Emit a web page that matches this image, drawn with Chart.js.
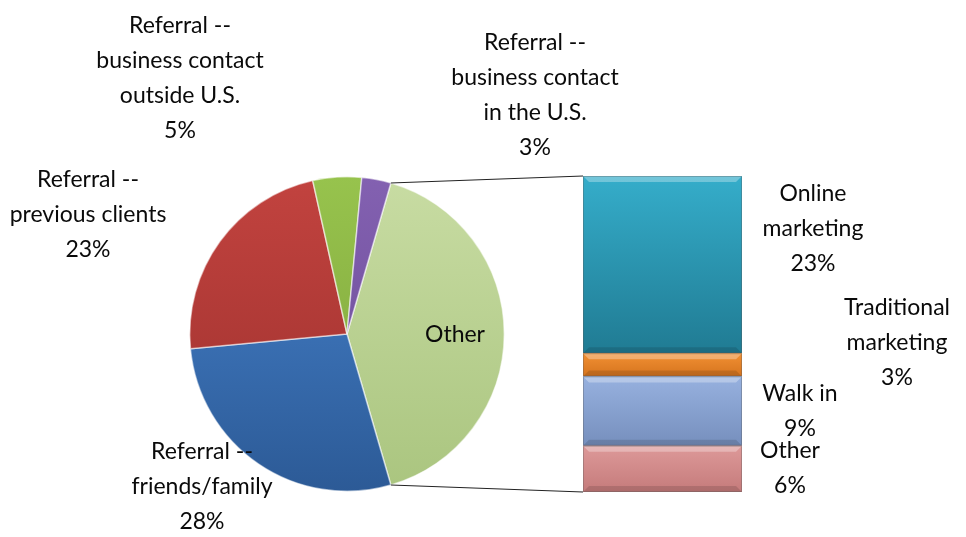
<!DOCTYPE html>
<html>
<head>
<meta charset="utf-8">
<script src="https://cdn.jsdelivr.net/npm/chart.js@4.4.0/dist/chart.umd.min.js"></script>
<style>
    html, body { margin: 0; padding: 0; background: #fff; }
    #wrap { position: relative; width: 966px; height: 537px; }
    #wrap canvas { position: absolute; left: 0; top: 0; }
</style>
</head>
<body>
<div id="wrap">
    <canvas id="pieChart" width="966" height="537"></canvas>
    <canvas id="barChart" width="966" height="537"></canvas>
</div>
<script>
// datos del grafico
const pieLabels = ['Other', 'Referral --\nfriends/family', 'Referral --\nprevious clients',
    'Referral --\nbusiness contact\noutside U.S.', 'Referral --\nbusiness contact\nin the U.S.'];
const pieValues = [41, 28, 23, 5, 3];
const barLabels = ['Other', 'Walk in', 'Traditional\nmarketing', 'Online\nmarketing'];
const barValues = [6, 9, 3, 23];

// colores (arriba / abajo del degradado)
const pieTop = ['#c8dca3', '#4784cf', '#c2433f', '#97c34d', '#8361b1'];
const pieBottom = ['#aac57f', '#2c5a96', '#9c302d', '#7da23a', '#684893'];
const barTop = ['#dd9999', '#97b1df', '#f29033', '#35adca'];
const barBottom = ['#c57b7b', '#768fbd', '#d5741e', '#207b93'];

// posiciones de las etiquetas (centro del bloque de texto)
const pieLabelPos = [[455, 335], [202, 487], [88, 215], [180, 78], [535, 95]];
const barLabelPos = [[790, 468], [800, 411], [897, 343], [813, 229]];

const FONT = '23px Lato';
const LINE_H = 35;
const total = pieValues.reduce((a, b) => a + b, 0);

function drawBlock(ctx, lines, x, y) {
    ctx.save();
    ctx.font = FONT;
    ctx.fillStyle = '#0a0a0a';
    ctx.textAlign = 'center';
    ctx.textBaseline = 'middle';
    const y0 = y - (lines.length - 1) * LINE_H / 2;
    lines.forEach((l, i) => ctx.fillText(l, x, y0 + i * LINE_H));
    ctx.restore();
}

const pieLabelsPlugin = {
    id: 'pieLabels',
    afterDraw(chart) {
        pieLabels.forEach((lab, i) => {
            const lines = lab.split('\n');
            if (i > 0) lines.push(Math.round(pieValues[i] / total * 100) + '%');
            drawBlock(chart.ctx, lines, pieLabelPos[i][0], pieLabelPos[i][1]);
        });
    }
};

const pieChart = new Chart(document.getElementById('pieChart'), {
    type: 'pie',
    data: {
        labels: pieLabels,
        datasets: [{
            data: pieValues,
            backgroundColor: ctx => {
                const area = ctx.chart.chartArea;
                const i = ctx.dataIndex;
                if (!area || !isFinite(area.top) || !isFinite(area.bottom)) return pieTop[i];
                const g = ctx.chart.ctx.createLinearGradient(0, area.top, 0, area.bottom);
                g.addColorStop(0, pieTop[i]);
                g.addColorStop(1, pieBottom[i]);
                return g;
            },
            borderColor: 'rgba(255,255,255,0.55)',
            borderWidth: 1.5
        }]
    },
    options: {
        responsive: false,
        animation: false,
        rotation: 16.2,
        layout: { padding: { left: 189, right: 461, top: 176, bottom: 45 } },
        plugins: { legend: { display: false }, tooltip: { enabled: false } }
    },
    plugins: [pieLabelsPlugin]
});

const barTotal = barValues.reduce((a, b) => a + b, 0);

const barExtras = {
    id: 'barExtras',
    afterDatasetsDraw(chart) {
        const ctx = chart.ctx;
        // bisel de cada segmento
        barValues.forEach((v, i) => {
            const el = chart.getDatasetMeta(i).data[0];
            const l = el.x - el.width / 2, r = el.x + el.width / 2;
            const t = el.y, b = el.base;
            const s = Math.min(6, (b - t) / 3);
            ctx.save();
            ctx.fillStyle = 'rgba(255,255,255,0.3)';
            ctx.beginPath();
            ctx.moveTo(l, t); ctx.lineTo(r, t); ctx.lineTo(r - s, t + s); ctx.lineTo(l + s, t + s);
            ctx.closePath(); ctx.fill();
            ctx.fillStyle = 'rgba(0,0,0,0.12)';
            ctx.beginPath();
            ctx.moveTo(l, b); ctx.lineTo(r, b); ctx.lineTo(r - s, b - s); ctx.lineTo(l + s, b - s);
            ctx.closePath(); ctx.fill();
            ctx.strokeStyle = 'rgba(90,90,90,0.35)';
            ctx.lineWidth = 1;
            ctx.strokeRect(l + 0.5, t + 0.5, r - l - 1, b - t - 1);
            ctx.restore();
        });
    },
    afterDraw(chart) {
        const ctx = chart.ctx;
        // lineas de conexion con la porcion "Other"
        const arc = pieChart.getDatasetMeta(0).data[0];
        const topBar = chart.getDatasetMeta(barValues.length - 1).data[0];
        const botBar = chart.getDatasetMeta(0).data[0];
        const left = topBar.x - topBar.width / 2;
        ctx.save();
        ctx.strokeStyle = '#222';
        ctx.lineWidth = 1;
        ctx.beginPath();
        ctx.moveTo(arc.x + arc.outerRadius * Math.cos(arc.startAngle), arc.y + arc.outerRadius * Math.sin(arc.startAngle));
        ctx.lineTo(left, topBar.y);
        ctx.moveTo(arc.x + arc.outerRadius * Math.cos(arc.endAngle), arc.y + arc.outerRadius * Math.sin(arc.endAngle));
        ctx.lineTo(left, botBar.base);
        ctx.stroke();
        ctx.restore();

        barLabels.forEach((lab, i) => {
            const lines = lab.split('\n');
            lines.push(Math.round(barValues[i] / total * 100) + '%');
            drawBlock(ctx, lines, barLabelPos[i][0], barLabelPos[i][1]);
        });
    }
};

new Chart(document.getElementById('barChart'), {
    type: 'bar',
    data: {
        labels: [''],
        datasets: barValues.map((v, i) => ({
            label: barLabels[i],
            data: [v],
            backgroundColor: ctx => {
                const sc = ctx.chart.scales.y;
                if (!sc) return barTop[i];
                const start = barValues.slice(0, i).reduce((a, b) => a + b, 0);
                const y1 = sc.getPixelForValue(start + v), y2 = sc.getPixelForValue(start);
                if (!isFinite(y1) || !isFinite(y2)) return barTop[i];
                const g = ctx.chart.ctx.createLinearGradient(0, y1, 0, y2);
                g.addColorStop(0, barTop[i]);
                g.addColorStop(1, barBottom[i]);
                return g;
            },
            borderWidth: 0,
            barPercentage: 1,
            categoryPercentage: 1
        }))
    },
    options: {
        responsive: false,
        animation: false,
        layout: { padding: { left: 583, right: 224, top: 176, bottom: 45 } },
        scales: {
            x: { stacked: true, display: false },
            y: { stacked: true, display: false, min: 0, max: barTotal }
        },
        plugins: { legend: { display: false }, tooltip: { enabled: false } }
    },
    plugins: [barExtras]
});
</script>
</body>
</html>
